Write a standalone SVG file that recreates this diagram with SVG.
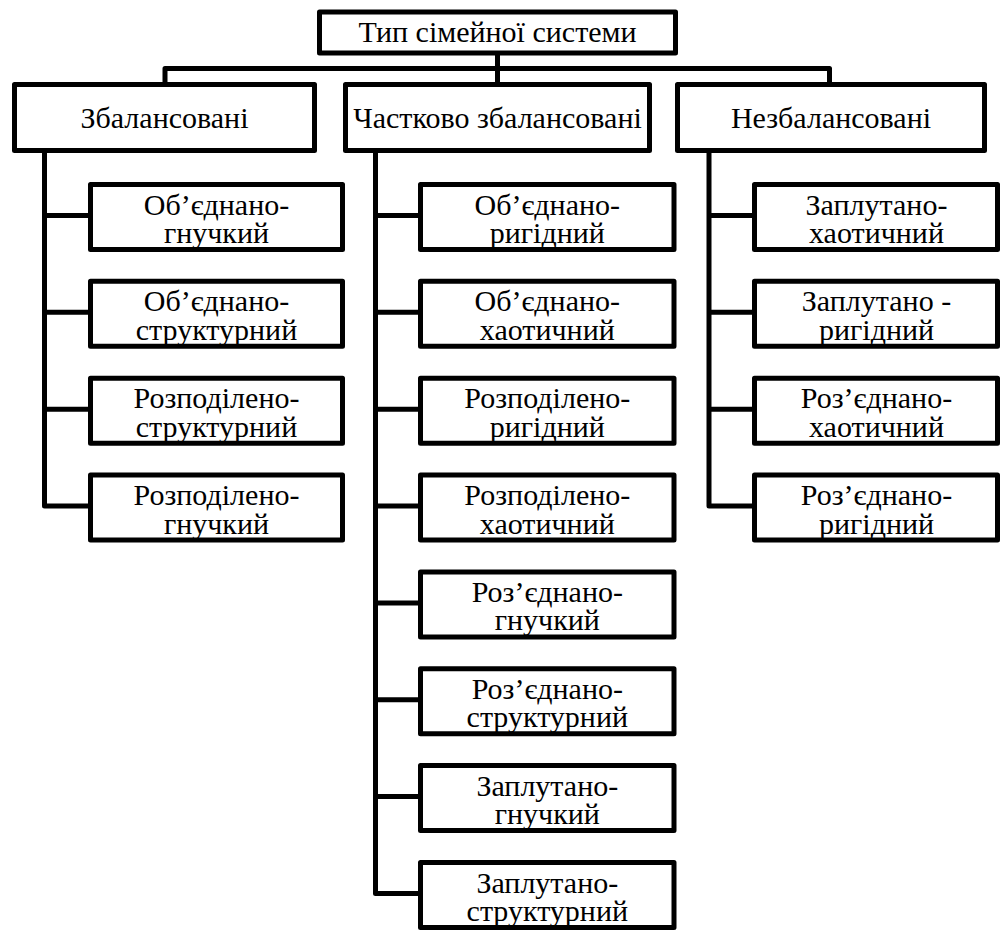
<svg xmlns="http://www.w3.org/2000/svg" width="1000" height="930" viewBox="0 0 1000 930">
<style>
rect{fill:#fff;stroke:#000;stroke-width:5;stroke-linejoin:round}
.c{fill:none;stroke:#000;stroke-width:5;stroke-linejoin:round}
text{fill:#000;text-anchor:middle}
</style>
<rect width="1000" height="930" style="fill:#fff;stroke:none"/>
<g id="connectors">
<path class="c" d="M497.5 53V84.5M165 84.5V68.5H829.5V84.5"/>
<path class="c" d="M44.5 150V506H90.5M44.5 215.5H90.5M44.5 312.3H90.5M44.5 409.2H90.5"/>
<path class="c" d="M375.5 150.5V893.5H420.5M375.5 215.5H420.5M375.5 312.3H420.5M375.5 409.2H420.5M375.5 506H420.5M375.5 602.9H420.5M375.5 699.8H420.5M375.5 796.6H420.5"/>
<path class="c" d="M709 150.5V506H754.5M709 215.5H754.5M709 312.3H754.5M709 409.2H754.5"/>
</g>
<g font-family="Liberation Serif, Times New Roman, serif" font-size="30">
<g id="root"><rect x="319.5" y="12" width="356" height="41"/><text x="497.5" y="42">Тип сімейної системи</text></g>
<g id="balanced"><rect x="14.5" y="84.5" width="300" height="66"/><text x="164.5" y="128">Збалансовані</text></g>
<g id="partial"><rect x="345.5" y="84.5" width="304" height="66"/><text x="497.5" y="128">Частково збалансовані</text></g>
<g id="unbalanced"><rect x="677.5" y="84.5" width="307" height="66"/><text x="831" y="128">Незбалансовані</text></g>

<g id="b1"><rect x="90.5" y="184.5" width="252" height="65"/><text x="216.5" y="214.5">Об’єднано-</text><text x="216.5" y="243">гнучкий</text></g>
<g id="b2"><rect x="90.5" y="281.3" width="252" height="65"/><text x="216.5" y="311.3">Об’єднано-</text><text x="216.5" y="339.8">структурний</text></g>
<g id="b3"><rect x="90.5" y="378.2" width="252" height="65"/><text x="216.5" y="408.2">Розподілено-</text><text x="216.5" y="436.7">структурний</text></g>
<g id="b4"><rect x="90.5" y="475" width="252" height="65"/><text x="216.5" y="505">Розподілено-</text><text x="216.5" y="533.5">гнучкий</text></g>

<g id="p1"><rect x="420.5" y="184.5" width="253.5" height="65"/><text x="547.3" y="214.5">Об’єднано-</text><text x="547.3" y="243">ригідний</text></g>
<g id="p2"><rect x="420.5" y="281.3" width="253.5" height="65"/><text x="547.3" y="311.3">Об’єднано-</text><text x="547.3" y="339.8">хаотичний</text></g>
<g id="p3"><rect x="420.5" y="378.2" width="253.5" height="65"/><text x="547.3" y="408.2">Розподілено-</text><text x="547.3" y="436.7">ригідний</text></g>
<g id="p4"><rect x="420.5" y="475" width="253.5" height="65"/><text x="547.3" y="505">Розподілено-</text><text x="547.3" y="533.5">хаотичний</text></g>
<g id="p5"><rect x="420.5" y="571.9" width="253.5" height="65"/><text x="547.3" y="601.9">Роз’єднано-</text><text x="547.3" y="630.4">гнучкий</text></g>
<g id="p6"><rect x="420.5" y="668.8" width="253.5" height="65"/><text x="547.3" y="698.8">Роз’єднано-</text><text x="547.3" y="727.3">структурний</text></g>
<g id="p7"><rect x="420.5" y="765.6" width="253.5" height="65"/><text x="547.3" y="795.6">Заплутано-</text><text x="547.3" y="824.1">гнучкий</text></g>
<g id="p8"><rect x="420.5" y="862.5" width="253.5" height="65"/><text x="547.3" y="892.5">Заплутано-</text><text x="547.3" y="921">структурний</text></g>

<g id="u1"><rect x="754.5" y="184.5" width="243" height="65"/><text x="876.5" y="214.5">Заплутано-</text><text x="876.5" y="243">хаотичний</text></g>
<g id="u2"><rect x="754.5" y="281.3" width="243" height="65"/><text x="876.5" y="311.3">Заплутано -</text><text x="876.5" y="339.8">ригідний</text></g>
<g id="u3"><rect x="754.5" y="378.2" width="243" height="65"/><text x="876.5" y="408.2">Роз’єднано-</text><text x="876.5" y="436.7">хаотичний</text></g>
<g id="u4"><rect x="754.5" y="475" width="243" height="65"/><text x="876.5" y="505">Роз’єднано-</text><text x="876.5" y="533.5">ригідний</text></g>
</g>
</svg>
